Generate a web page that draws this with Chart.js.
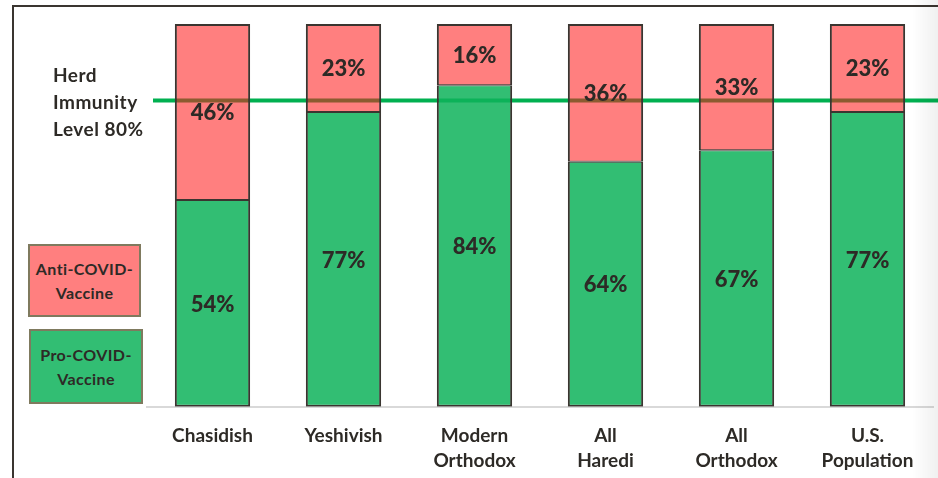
<!DOCTYPE html>
<html>
<head>
<meta charset="utf-8">
<script src="https://cdn.jsdelivr.net/npm/chart.js@4.4.1/dist/chart.umd.min.js"></script>
<style>
  html, body { margin: 0; padding: 0; background: #ffffff; }
  #wrap { position: relative; width: 938px; height: 478px; overflow: hidden; font-family: Lato, "Open Sans", sans-serif; color: #2d2a26; }
  #frame { position: absolute; left: 12px; top: 5px; width: 960px; height: 520px; border-top: 2px solid #3a3530; border-left: 2px solid #3a3530; }
  #shade { position: absolute; right: 0; top: 0; width: 26px; height: 478px; background: linear-gradient(to right, rgba(0,0,0,0), rgba(0,0,0,0.06)); pointer-events: none; }
  #chart { position: absolute; left: 0; top: 0; }
  #herd { position: absolute; left: 53px; top: 61px; font-weight: 700; font-size: 19px; line-height: 27px; letter-spacing: 0.5px; }
  .lg { position: absolute; box-sizing: border-box; border: 2px solid #7f7a5e; font-weight: 700; font-size: 16px; line-height: 24px; letter-spacing: 0.4px; text-align: center; display: flex; align-items: center; justify-content: center; }
</style>
</head>
<body>
<div id="wrap">
  <div id="frame"></div>
  <canvas id="chart" width="938" height="478"></canvas>
  <div id="herd"></div>
  <div id="lgAnti" class="lg" style="left:28px; top:244px; width:113px; height:73px;"></div>
  <div id="lgPro" class="lg" style="left:29px; top:329px; width:114px; height:75px;"></div>
  <div id="shade"></div>
</div>
<script>
// ---- data ----
const categories = [["Chasidish"], ["Yeshivish"], ["Modern", "Orthodox"], ["All", "Haredi"], ["All", "Orthodox"], ["U.S.", "Population"]];
const proVaccine = [54, 77, 84, 64, 67, 77];
const antiVaccine = [46, 23, 16, 36, 33, 23];
const seriesNames = [["Pro-COVID-", "Vaccine"], ["Anti-COVID-", "Vaccine"]];
const herdLevel = 80;
const herdLabel = ["Herd", "Immunity", "Level 80%"];

// ---- styles ----
const TEXT = '#2d2a26';
const EDGE = '#3a3530';
const GREEN_BAR = 'rgba(14,179,90,0.85)';
const RED_BAR = 'rgba(255,22,22,0.55)';
const LINE_GREEN = '#00b050';

document.getElementById('herd').innerHTML = herdLabel.join('<br>');
document.getElementById('lgAnti').innerHTML = seriesNames[1].join('<br>');
document.getElementById('lgPro').innerHTML = seriesNames[0].join('<br>');
document.getElementById('lgAnti').style.background = '#ff7f7f';
document.getElementById('lgPro').style.background = '#32be73';

const herdLine = {
  id: 'herdLine',
  beforeDatasetsDraw(chart) {
    const y = chart.scales.y.getPixelForValue(herdLevel);
    const ctx = chart.ctx;
    ctx.save();
    ctx.strokeStyle = LINE_GREEN;
    ctx.lineWidth = 4;
    ctx.beginPath();
    ctx.moveTo(chart.chartArea.left + 6, y);
    ctx.lineTo(chart.width, y);
    ctx.stroke();
    ctx.restore();
  }
};

const valueLabels = {
  id: 'valueLabels',
  afterDatasetsDraw(chart) {
    const ctx = chart.ctx;
    ctx.save();
    ctx.fillStyle = TEXT;
    ctx.font = '900 22px Lato, "Open Sans", sans-serif';
    ctx.textAlign = 'center';
    ctx.textBaseline = 'middle';
    chart.data.datasets.forEach((ds, di) => {
      const meta = chart.getDatasetMeta(di);
      meta.data.forEach((el, i) => {
        const p = el.getProps(['x', 'y', 'base'], true);
        ctx.fillText(ds.data[i] + '%', p.x, (p.y + p.base) / 2 + 1);
      });
    });
    ctx.restore();
  }
};

new Chart(document.getElementById('chart'), {
  type: 'bar',
  data: {
    labels: categories,
    datasets: [
      {
        label: seriesNames[0].join(''),
        data: proVaccine,
        backgroundColor: GREEN_BAR,
        borderColor: EDGE,
        borderWidth: { top: 1, left: 2, right: 2, bottom: 2 },
        borderSkipped: false
      },
      {
        label: seriesNames[1].join(''),
        data: antiVaccine,
        backgroundColor: RED_BAR,
        borderColor: EDGE,
        borderWidth: { top: 2, left: 2, right: 2, bottom: 1 },
        borderSkipped: false
      }
    ]
  },
  options: {
    responsive: false,
    animation: false,
    events: [],
    layout: { padding: { left: 147, right: 5, top: 24, bottom: -11 } },
    datasets: { bar: { categoryPercentage: 1, barPercentage: 0.575 } },
    plugins: { legend: { display: false }, tooltip: { enabled: false } },
    scales: {
      x: {
        stacked: true,
        grid: { display: true, drawOnChartArea: false, drawTicks: false },
        border: { display: true, color: '#d9d9d9', width: 2 },
        ticks: {
          color: TEXT,
          padding: 16,
          font: { family: 'Lato, "Open Sans", sans-serif', size: 19, weight: '700', lineHeight: 1.32 },
          maxRotation: 0
        }
      },
      y: { stacked: true, display: false, min: 0, max: 100 }
    }
  },
  plugins: [herdLine, valueLabels]
});
</script>
</body>
</html>
